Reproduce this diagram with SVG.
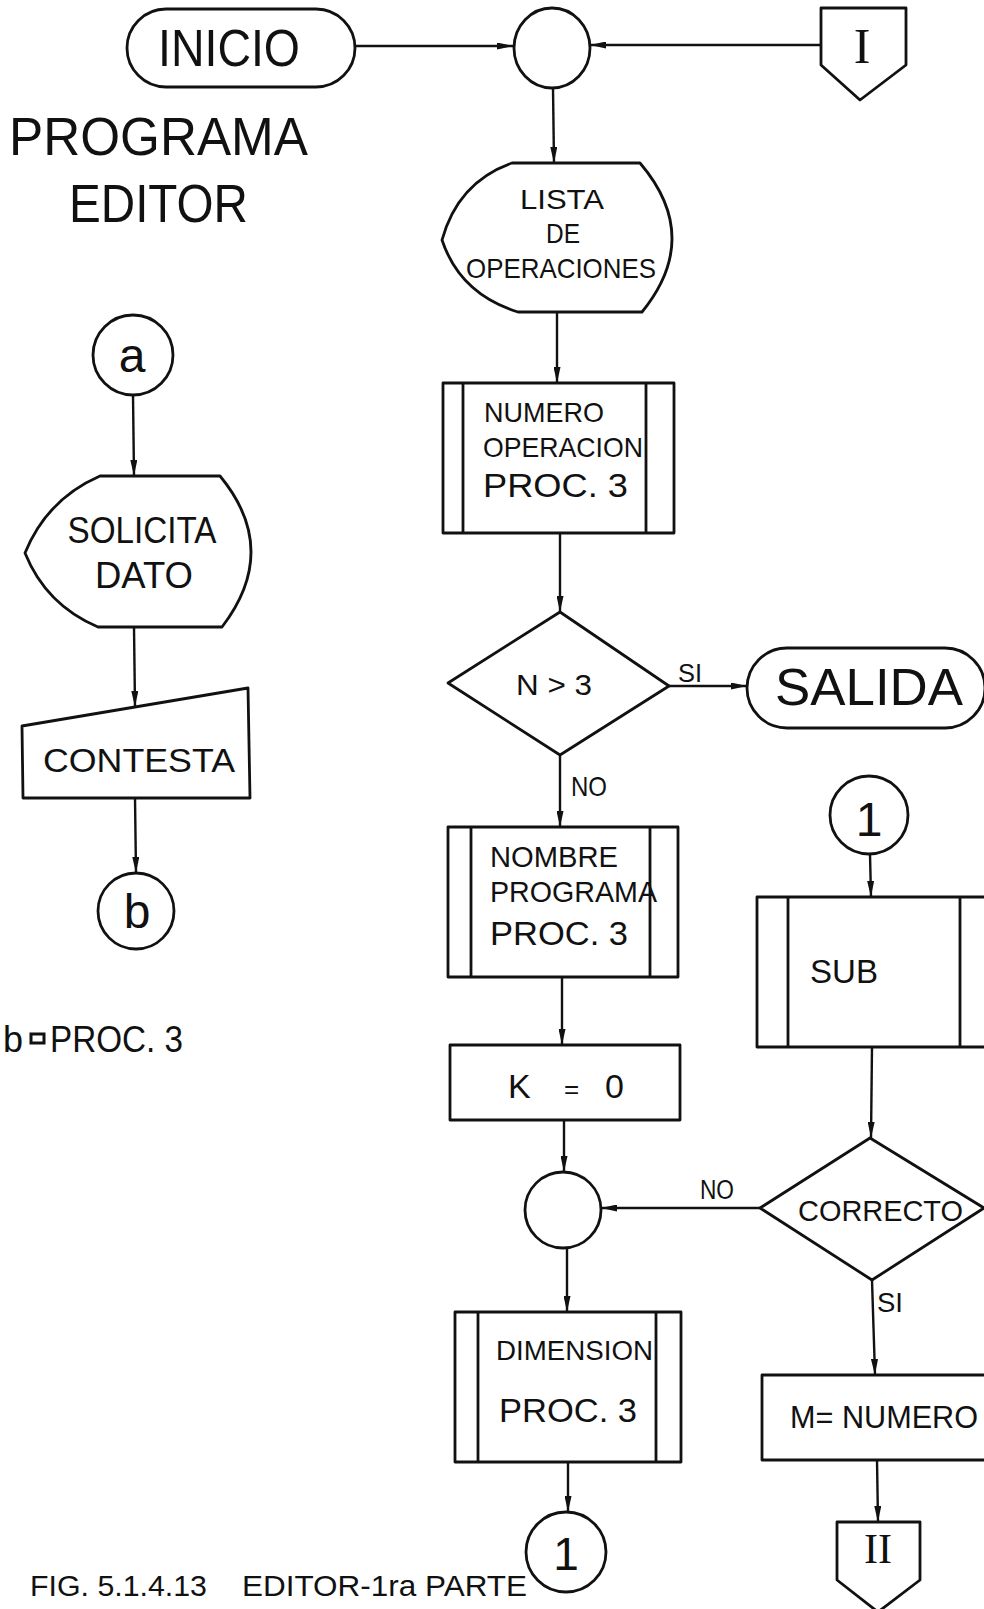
<svg xmlns="http://www.w3.org/2000/svg" width="984" height="1609" viewBox="0 0 984 1609">
<style>
.s{fill:none;stroke:#111;stroke-width:2.8;stroke-linejoin:round}
.w{fill:#fff;stroke:#111;stroke-width:2.8;stroke-linejoin:round}
.c{fill:none;stroke:#111;stroke-width:2.4}
.t{font-family:"Liberation Sans",Arial,sans-serif;fill:#111;text-anchor:middle}
.l{font-family:"Liberation Sans",Arial,sans-serif;fill:#111;text-anchor:start}
.r{font-family:"Liberation Serif","Times New Roman",serif;fill:#111;text-anchor:middle}
</style>
<defs>
<marker id="ah" viewBox="0 0 16 7" refX="16" refY="3.5" markerWidth="16" markerHeight="7" markerUnits="userSpaceOnUse" orient="auto">
<path d="M0,0 L16,3.5 L0,7 Z" fill="#111"/>
</marker>
</defs>
<rect width="984" height="1609" fill="#fff"/>

<g id="connectors">
<line class="c" x1="355" y1="46" x2="513" y2="46" marker-end="url(#ah)"/>
<line class="c" x1="821" y1="45" x2="590" y2="45" marker-end="url(#ah)"/>
<line class="c" x1="553" y1="88" x2="554" y2="163" marker-end="url(#ah)"/>
<line class="c" x1="557" y1="312" x2="557" y2="383" marker-end="url(#ah)"/>
<line class="c" x1="560" y1="533" x2="560" y2="612" marker-end="url(#ah)"/>
<line class="c" x1="669" y1="686" x2="747" y2="686" marker-end="url(#ah)"/>
<line class="c" x1="560" y1="755" x2="560" y2="827" marker-end="url(#ah)"/>
<line class="c" x1="562" y1="977" x2="562" y2="1045" marker-end="url(#ah)"/>
<line class="c" x1="564" y1="1120" x2="564" y2="1172" marker-end="url(#ah)"/>
<line class="c" x1="760" y1="1208" x2="601" y2="1208" marker-end="url(#ah)"/>
<line class="c" x1="567" y1="1248" x2="567" y2="1312" marker-end="url(#ah)"/>
<line class="c" x1="568" y1="1462" x2="568" y2="1512" marker-end="url(#ah)"/>
<line class="c" x1="133" y1="395" x2="134" y2="476" marker-end="url(#ah)"/>
<line class="c" x1="134" y1="627" x2="135" y2="707" marker-end="url(#ah)"/>
<line class="c" x1="135" y1="798" x2="136" y2="873" marker-end="url(#ah)"/>
<line class="c" x1="870" y1="854" x2="871" y2="897" marker-end="url(#ah)"/>
<line class="c" x1="872" y1="1047" x2="871" y2="1138" marker-end="url(#ah)"/>
<line class="c" x1="872" y1="1280" x2="875" y2="1375" marker-end="url(#ah)"/>
<line class="c" x1="877" y1="1460" x2="878" y2="1522" marker-end="url(#ah)"/>
<text class="l" x="678" y="682" font-size="26" textLength="24" lengthAdjust="spacingAndGlyphs">SI</text>
<text class="l" x="571" y="796" font-size="28" textLength="36" lengthAdjust="spacingAndGlyphs">NO</text>
<text class="l" x="700" y="1199" font-size="27" textLength="34" lengthAdjust="spacingAndGlyphs">NO</text>
<text class="l" x="877" y="1312" font-size="27" textLength="26" lengthAdjust="spacingAndGlyphs">SI</text>
</g>

<g id="inicio">
<rect class="w" x="127" y="9" width="228" height="78" rx="39"/>
<text class="t" x="229" y="66" font-size="51" textLength="142" lengthAdjust="spacingAndGlyphs">INICIO</text>
</g>

<g id="title">
<text class="l" x="9" y="155" font-size="53" textLength="299" lengthAdjust="spacingAndGlyphs">PROGRAMA</text>
<text class="l" x="69" y="222" font-size="54" textLength="179" lengthAdjust="spacingAndGlyphs">EDITOR</text>
</g>

<g id="merge-top">
<ellipse class="w" cx="552" cy="48" rx="38" ry="40"/>
</g>

<g id="conn-I">
<polygon class="w" points="821,8 906,8 906,65 860,100 821,65"/>
<text class="r" x="862" y="63" font-size="50">I</text>
</g>

<g id="lista">
<path class="w" d="M512,163 L640,163 Q703,237 642,312 L518,312 Q460,294 442,240 Q458,182 512,163 Z"/>
<text class="t" x="562" y="209" font-size="28" textLength="84" lengthAdjust="spacingAndGlyphs">LISTA</text>
<text class="t" x="563" y="243" font-size="28" textLength="34" lengthAdjust="spacingAndGlyphs">DE</text>
<text class="t" x="561" y="278" font-size="28" textLength="190" lengthAdjust="spacingAndGlyphs">OPERACIONES</text>
</g>

<g id="numero">
<rect class="w" x="443" y="383" width="231" height="150"/>
<line class="s" x1="463" y1="383" x2="463" y2="533"/>
<line class="s" x1="646" y1="383" x2="646" y2="533"/>
<text class="l" x="484" y="422" font-size="28" textLength="120" lengthAdjust="spacingAndGlyphs">NUMERO</text>
<text class="l" x="483" y="457" font-size="28" textLength="160" lengthAdjust="spacingAndGlyphs">OPERACION</text>
<text class="l" x="483" y="497" font-size="33" textLength="145" lengthAdjust="spacingAndGlyphs">PROC. 3</text>
</g>

<g id="dec-n3">
<polygon class="w" points="560,612 669,686 560,755 448,683"/>
<text class="l" x="516" y="695" font-size="30" textLength="76" lengthAdjust="spacingAndGlyphs">N &gt; 3</text>
</g>

<g id="salida">
<rect class="w" x="747" y="648" width="238" height="80" rx="40"/>
<text class="l" x="775" y="705" font-size="52" textLength="188" lengthAdjust="spacingAndGlyphs">SALIDA</text>
</g>

<g id="nombre">
<rect class="w" x="448" y="827" width="230" height="150"/>
<line class="s" x1="471" y1="827" x2="471" y2="977"/>
<line class="s" x1="650" y1="827" x2="650" y2="977"/>
<text class="l" x="490" y="867" font-size="29" textLength="128" lengthAdjust="spacingAndGlyphs">NOMBRE</text>
<text class="l" x="490" y="902" font-size="29" textLength="167" lengthAdjust="spacingAndGlyphs">PROGRAMA</text>
<text class="l" x="490" y="945" font-size="34" textLength="138" lengthAdjust="spacingAndGlyphs">PROC. 3</text>
</g>

<g id="k0">
<rect class="w" x="450" y="1045" width="230" height="75"/>
<text class="l" y="1098" font-size="34"><tspan x="508">K</tspan><tspan x="564" font-size="26">=</tspan><tspan x="605">0</tspan></text>
</g>

<g id="merge-mid">
<ellipse class="w" cx="563" cy="1210" rx="38" ry="38"/>
</g>

<g id="dimension">
<rect class="w" x="455" y="1312" width="226" height="150"/>
<line class="s" x1="478" y1="1312" x2="478" y2="1462"/>
<line class="s" x1="656" y1="1312" x2="656" y2="1462"/>
<text class="l" x="496" y="1360" font-size="27" textLength="157" lengthAdjust="spacingAndGlyphs">DIMENSION</text>
<text class="l" x="499" y="1422" font-size="34" textLength="138" lengthAdjust="spacingAndGlyphs">PROC. 3</text>
</g>

<g id="conn-1-bottom">
<circle class="w" cx="566" cy="1552" r="40"/>
<text class="t" x="566" y="1570" font-size="46">1</text>
</g>

<g id="caption">
<text class="l" x="30" y="1596" font-size="29" textLength="177" lengthAdjust="spacingAndGlyphs">FIG. 5.1.4.13</text>
<text class="l" x="242" y="1596" font-size="29" textLength="285" lengthAdjust="spacingAndGlyphs">EDITOR-1ra PARTE</text>
</g>

<g id="conn-a">
<circle class="w" cx="133" cy="355" r="40"/>
<text class="t" x="132" y="372" font-size="48">a</text>
</g>

<g id="solicita">
<path class="w" d="M100,476 L220,476 Q281,550 222,627 L98,627 Q46,605 25,553 Q47,499 100,476 Z"/>
<text class="t" x="142" y="543" font-size="37" textLength="149" lengthAdjust="spacingAndGlyphs">SOLICITA</text>
<text class="t" x="144" y="588" font-size="36" textLength="98" lengthAdjust="spacingAndGlyphs">DATO</text>
</g>

<g id="contesta">
<polygon class="w" points="22,726 248,688 250,798 23,798"/>
<text class="t" x="139" y="772" font-size="34" textLength="192" lengthAdjust="spacingAndGlyphs">CONTESTA</text>
</g>

<g id="conn-b">
<circle class="w" cx="136" cy="911" r="38"/>
<text class="t" x="137" y="928" font-size="48">b</text>
</g>

<g id="note">
<text class="l" x="3" y="1052" font-size="36">b</text>
<rect x="31" y="1034" width="13" height="9" fill="none" stroke="#111" stroke-width="3"/>
<text class="l" x="50" y="1052" font-size="36" textLength="133" lengthAdjust="spacingAndGlyphs">PROC. 3</text>
</g>

<g id="conn-1-top">
<circle class="w" cx="869" cy="815" r="39"/>
<text class="t" x="869" y="836" font-size="48">1</text>
</g>

<g id="sub">
<rect class="w" x="757" y="897" width="236" height="150"/>
<line class="s" x1="788" y1="897" x2="788" y2="1047"/>
<line class="s" x1="960" y1="897" x2="960" y2="1047"/>
<text class="l" x="810" y="983" font-size="33" textLength="68" lengthAdjust="spacingAndGlyphs">SUB</text>
</g>

<g id="dec-correcto">
<polygon class="w" points="870,1138 984,1208 872,1280 760,1208"/>
<text class="l" x="798" y="1221" font-size="30" textLength="165" lengthAdjust="spacingAndGlyphs">CORRECTO</text>
</g>

<g id="mnumero">
<rect class="w" x="762" y="1375" width="232" height="85"/>
<text class="l" x="790" y="1428" font-size="32" textLength="188" lengthAdjust="spacingAndGlyphs">M= NUMERO</text>
</g>

<g id="conn-II">
<polygon class="w" points="837,1522 920,1522 920,1580 878,1612 837,1580"/>
<text class="r" x="878" y="1563" font-size="42">II</text>
</g>
</svg>
